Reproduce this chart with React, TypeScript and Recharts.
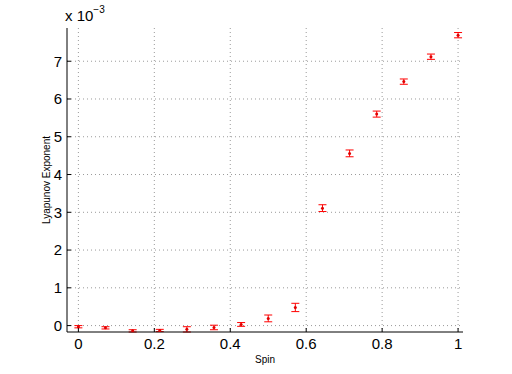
import { ComposedChart, Scatter, XAxis, YAxis, CartesianGrid, ErrorBar } from "recharts";

// spin values 0..1 in steps of 1/14
const spins = [0, 0.0714, 0.1429, 0.2143, 0.2857, 0.3571, 0.4286, 0.5, 0.5714, 0.6429, 0.7143, 0.7857, 0.8571, 0.9286, 1];
// Lyapunov exponent, in units of 1e-3
const lyapunov = [-0.03, -0.06, -0.14, -0.13, -0.1, -0.05, 0.03, 0.19, 0.48, 3.11, 4.56, 5.6, 6.46, 7.12, 7.69];
const errors = [0.03, 0.03, 0.03, 0.03, 0.07, 0.06, 0.05, 0.09, 0.11, 0.09, 0.09, 0.08, 0.07, 0.07, 0.07];

const xTicks = [0, 0.2, 0.4, 0.6, 0.8, 1];
const yTicks = [0, 1, 2, 3, 4, 5, 6, 7];

const data = spins.map((s, i) => ({ spin: s, le: lyapunov[i], err: errors[i] }));

const font = "'Liberation Sans', Arial, sans-serif";

const Dot = (props: any) => <circle cx={props.cx} cy={props.cy} r={1.5} fill="#e00000" />;

export default function App() {
  return (
    <div style={{ position: "absolute", left: 0, top: 0, width: 512, height: 374, background: "#fff", fontFamily: font }}>
      <div style={{ position: "absolute", left: 65, top: 6, fontSize: 15, color: "#000" }}>
        x 10<sup style={{ fontSize: 10, position: "relative", top: -2 }}>−3</sup>
      </div>
      <ComposedChart width={512} height={374} data={data} margin={{ top: 28, right: 49, left: 0, bottom: 0 }}>
        <CartesianGrid stroke="#9a9a9a" strokeDasharray="1 3" horizontalValues={yTicks} verticalValues={xTicks} />
        <XAxis
          dataKey="spin"
          type="number"
          domain={[-0.03, 1.013]}
          ticks={xTicks}
          allowDataOverflow
          height={42}
          stroke="#000"
          tickSize={-4}
          tickMargin={10}
          tick={{ fontSize: 15, fill: "#000", fontFamily: font }}
          label={{ value: "Spin", position: "insideBottom", offset: 11, fontSize: 10, fill: "#000", fontFamily: font }}
        />
        <XAxis xAxisId="top" orientation="top" type="number" domain={[-0.03, 1.013]} ticks={xTicks} height={0} stroke="#777" tickSize={-4} tick={false} />
        <YAxis
          type="number"
          domain={[-0.17, 7.88]}
          ticks={yTicks}
          allowDataOverflow
          width={67}
          stroke="#000"
          tickSize={-4}
          tickMargin={9}
          tick={{ fontSize: 15, fill: "#000", fontFamily: font }}
          label={{ value: "Lyapunov Exponent", angle: -90, position: "insideLeft", offset: 46, fontSize: 10, fill: "#000", fontFamily: font, style: { textAnchor: "middle" } }}
        />
        <YAxis yAxisId="right" orientation="right" type="number" domain={[-0.17, 7.88]} ticks={yTicks} width={0} stroke="#777" tickSize={-4} tick={false} />
        <Scatter dataKey="le" fill="#ff0000" shape={Dot} isAnimationActive={false}>
          <ErrorBar dataKey="err" direction="y" width={4} stroke="#ff0000" strokeWidth={1} />
        </Scatter>
      </ComposedChart>
    </div>
  );
}
